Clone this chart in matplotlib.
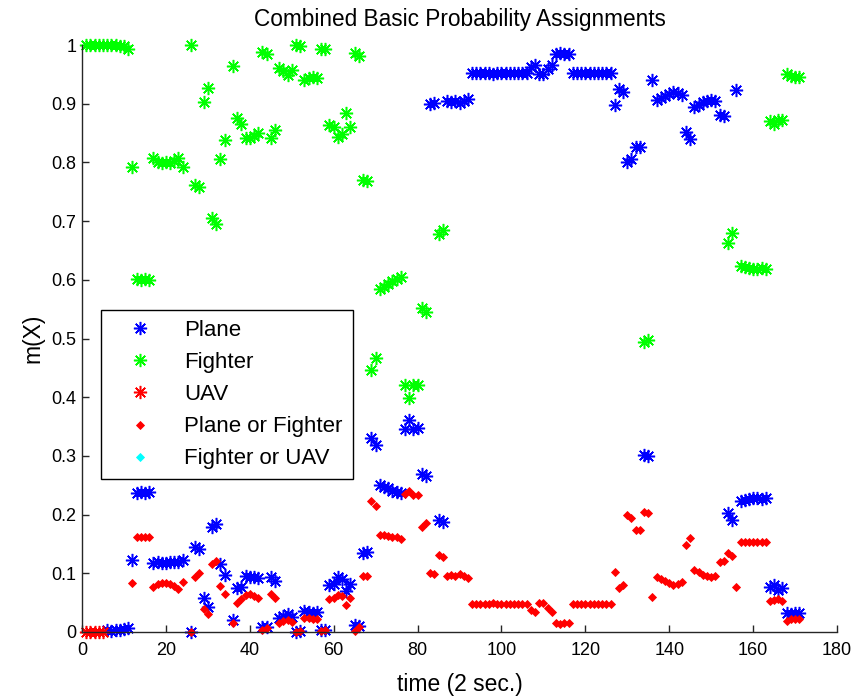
import numpy as np
import matplotlib
matplotlib.use("Agg")
import matplotlib.pyplot as plt

nan = np.nan

# time index (2 s steps)
t = np.arange(1, 172)

plane = [
    nan, nan, nan, nan, nan, .003, .002, .003, .004, .005,
    .006, .123, .237, .238, .237, .238, .117, .119, .118, .117,
    .119, .119, .120, .122, nan, .000, .145, .141, .058, .043,
    .179, .184, .115, .097, nan, .020, .075, .077, .095, .094,
    .093, .092, .008, .009, .093, .087, .024, .027, .030, .026,
    .000, .001, .036, .034, .033, .034, .004, .004, .080, .082,
    .094, .090, .070, .082, .012, .011, .135, .137, .330, .319,
    .250, .247, .245, .241, .238, .236, .345, .361, .345, .347,
    .269, .265, .900, .902, .190, .188, .905, .903, .904, .902,
    .904, .908, .952, .952, .953, .952, .952, .951, .952, .952,
    .952, .953, .952, .952, .952, .952, .963, .966, .951, .951,
    .959, .966, .985, .986, .985, .985, .952, .952, .952, .952,
    .952, .952, .953, .952, .952, .952, .898, .925, .920, .800,
    .806, .826, .826, .302, .300, .940, .906, .909, .913, .917,
    .920, .918, .915, .852, .840, .894, .898, .903, .904, .906,
    .905, .881, .879, .203, .191, .923, .224, .225, .227, .228,
    .228, .227, .228, .077, .080, .072, .075, .032, .031, .033, .032,
]

fighter = [
    1.0, 1.0, 1.0, 1.0, 1.0, 1.0, 1.0, 1.0, .999, .998,
    .993, .793, .601, .600, .601, .600, .807, .800, .799, .800,
    .799, .803, .807, .792, nan, 1.0, .762, .758, .903, .927,
    .705, .695, .806, .838, nan, .964, .876, .866, .842, .842,
    .845, .850, .988, .985, .842, .855, .961, .955, .949, .957,
    1.0, .998, .940, .943, .945, .944, .994, .993, .864, .860,
    .843, .848, .884, .860, .986, .981, .770, .768, .446, .467,
    .585, .588, .592, .598, .601, .605, .420, .399, .421, .420,
    .552, .545, nan, nan, .678, .684, nan, nan, nan, nan,
    nan, nan, nan, nan, nan, nan, nan, nan, nan, nan,
    nan, nan, nan, nan, nan, nan, nan, nan, nan, nan,
    nan, nan, nan, nan, nan, nan, nan, nan, nan, nan,
    nan, nan, nan, nan, nan, nan, nan, nan, nan, nan,
    nan, nan, nan, .494, .497, nan, nan, nan, nan, nan,
    nan, nan, nan, nan, nan, nan, nan, nan, nan, nan,
    nan, nan, nan, .663, .680, nan, .623, .622, .620, .619,
    .619, .620, .618, .870, .866, .872, .873, .950, .947, .945, .946,
]

uav = [0.0, 0.0, 0.0, 0.0, 0.0] + [nan] * 166

plane_or_fighter = [
    nan, nan, nan, nan, nan, nan, nan, nan, nan, nan,
    nan, .083, .162, .162, .162, .162, .076, .081, .083, .083,
    .082, .078, .073, .086, nan, .000, .093, .101, .039, .030,
    .116, .121, .079, .065, nan, .016, .049, .057, .063, .064,
    .062, .058, .004, .006, .065, .058, .015, .018, .021, .017,
    .000, .001, .024, .023, .022, .022, .002, .003, .056, .058,
    .063, .062, .046, .058, .002, .008, .095, .095, .224, .214,
    .165, .165, .163, .161, .161, .159, .235, .240, .234, .233,
    .179, .185, .100, .098, .132, .128, .095, .097, .096, .098,
    .096, .092, .048, .048, .047, .048, .048, .049, .048, .048,
    .048, .047, .048, .048, .048, .048, .037, .034, .049, .049,
    .041, .034, .015, .014, .015, .015, .048, .048, .048, .048,
    .048, .048, .048, .048, .048, .048, .102, .075, .080, .200,
    .194, .174, .174, .204, .203, .060, .094, .091, .087, .083,
    .080, .082, .085, .148, .160, .106, .102, .097, .096, .094,
    .095, .119, .121, .134, .129, .077, .153, .153, .153, .153,
    .153, .153, .154, .053, .054, .056, .052, .018, .022, .022, .022,
]

fighter_or_uav = [nan] * 171

series_labels = ["Plane", "Fighter", "UAV", "Plane or Fighter", "Fighter or UAV"]

plt.rcParams["font.family"] = ["Liberation Sans", "DejaVu Sans"]

fig = plt.figure(figsize=(8.56, 6.99), dpi=100)
ax = fig.add_axes([82 / 856, 1 - 632 / 699, 755 / 856, 587 / 699])

star = (8, 2, 0)
kw = dict(linestyle="none", clip_on=False)
ax.plot(t, plane, marker=star, color=(0, 0, 1), ms=9.5, mew=1.1, label=series_labels[0], **kw)
ax.plot(t, fighter, marker=star, color=(0, 1, 0), ms=9.5, mew=1.1, label=series_labels[1], **kw)
ax.plot(t, uav, marker=star, color=(1, 0, 0), ms=9.5, mew=1.1, label=series_labels[2], **kw)
ax.plot(t, plane_or_fighter, marker="D", color=(1, 0, 0), ms=4.3, mew=0.6,
        label=series_labels[3], **kw)
ax.plot(t, fighter_or_uav, marker="D", color=(0, 1, 1), ms=4.3, mew=0.6,
        label=series_labels[4], **kw)

ax.set_xlim(0, 180)
ax.set_ylim(0, 1)
ax.set_xticks(np.arange(0, 181, 20))
ax.set_yticks(np.arange(0, 1.01, 0.1))
ax.set_yticklabels(["0", "0.1", "0.2", "0.3", "0.4", "0.5", "0.6", "0.7", "0.8", "0.9", "1"])

for side in ("top", "right"):
    ax.spines[side].set_visible(False)
for side in ("left", "bottom"):
    ax.spines[side].set_color("#262626")
    ax.spines[side].set_linewidth(1.0)
ax.tick_params(direction="in", length=5, width=1, labelsize=13, colors="#262626",
               labelcolor="black")
ax.tick_params(axis="x", pad=7)
ax.tick_params(axis="y", pad=4)

ax.set_title("Combined Basic Probability Assignments", fontsize=16.3, pad=14)
ax.set_xlabel("time (2 sec.)", fontsize=16.5, labelpad=10)
ax.set_ylabel("m(X)", fontsize=16.5, labelpad=5)

leg = ax.legend(loc="upper left", bbox_to_anchor=(0.025, 0.5486), borderaxespad=0,
                fontsize=16, frameon=True, fancybox=False, edgecolor="black",
                framealpha=1, borderpad=0.45, labelspacing=0.5, handlelength=2.6,
                handletextpad=0.7)
leg.get_frame().set_linewidth(1.0)

fig.savefig("out.png", dpi=100)
